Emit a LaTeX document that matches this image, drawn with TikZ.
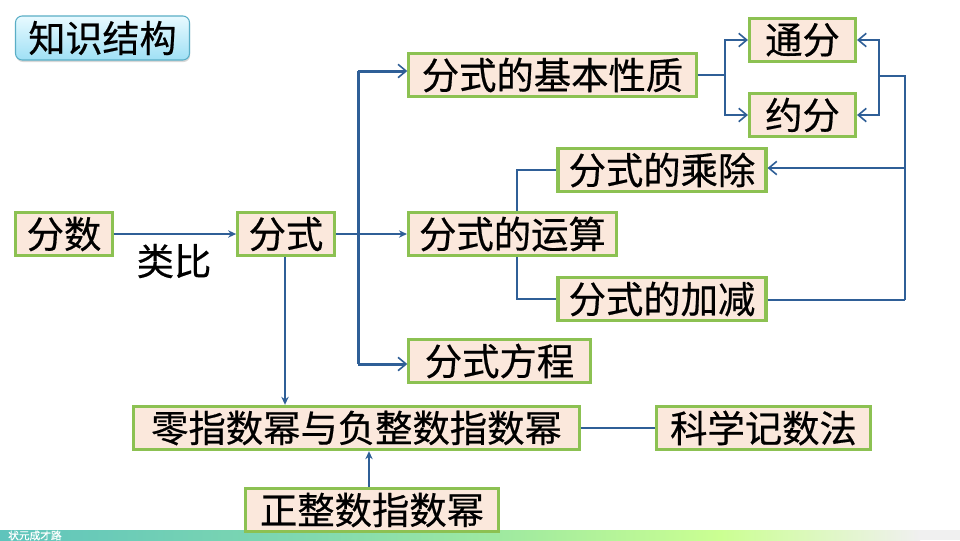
\documentclass[tikz,border=0pt]{standalone}
\usepackage{fontspec}
\setmainfont[RawFeature={embolden=0.5}]{Noto Sans CJK SC}
\usetikzlibrary{arrows.meta,shadows,calc}
\definecolor{boxfill}{HTML}{FBE8DC}
\definecolor{boxline}{HTML}{8CC152}
\definecolor{connc}{HTML}{2F5F97}
\definecolor{titleline}{HTML}{5AAEC6}
\definecolor{titletop}{HTML}{E8FAFF}
\definecolor{titlebot}{HTML}{9FE0F5}
\definecolor{barA}{HTML}{5FC4BC}
\definecolor{barB}{HTML}{7FD8B0}
\definecolor{barC}{HTML}{A4EC9E}
\definecolor{barD}{HTML}{CBFF92}
\definecolor{barE}{HTML}{F0F0F0}
\tikzset{
  px/.style={x=0.75pt,y=-0.75pt},
  kbox/.style={draw=boxline,fill=boxfill,line width=2.3pt,inner sep=0pt,font=\fontsize{28}{30}\selectfont,text=black,minimum height=32.5pt},
  thinlink/.style={draw=connc,line width=1pt},
  midlink/.style={draw=connc,line width=1.7pt},
  heavylink/.style={draw=connc,line width=2.25pt},
  barb/.style={-{Straight Barb[length=6pt,width=10pt,line width=1.2pt]}},
  solidtip/.style={-{Stealth[length=6pt,width=5.5pt]}},
}
\begin{document}
\begin{tikzpicture}[px]
\useasboundingbox (0,0) rectangle (960,540);
\fill[white] (0,0) rectangle (960,540);
\shade[left color=barA,right color=barB] (0,530) rectangle (300,540);
\shade[left color=barB,right color=barC] (300,530) rectangle (530,540);
\shade[left color=barC,right color=barD] (530,530) rectangle (720,540);
\shade[left color=barD,right color=barE] (720,530) rectangle (920,540);
\fill[barE] (920,530) rectangle (960,540);
\node (foot) [text=white,font=\fontsize{8}{8}\selectfont,anchor=west,inner sep=0pt] at (8,535.5) {状元成才路};
\node (title) [draw=titleline,line width=0.8pt,rounded corners=5pt,top color=titletop,bottom color=titlebot,
  minimum width=130.5pt,minimum height=33pt,inner sep=0pt,font=\fontsize{27.8}{30}\selectfont,
  drop shadow={shadow xshift=0.5pt,shadow yshift=-1.5pt,opacity=0.3}] at (102.5,38) {知识结构};
\node[kbox,minimum width=72.5pt] (fenshu) at (64,234) {分数};
\node[kbox,minimum width=72.5pt] (fenshi) at (286,234) {分式};
\node[kbox,minimum width=215.5pt] (jiben) at (552.5,75) {分式的基本性质};
\node[kbox,minimum width=79.5pt] (tong) at (802.5,40) {通分};
\node[kbox,minimum width=79.5pt] (yue) at (802.5,115) {约分};
\node[kbox,minimum width=156pt] (cheng) at (662,170) {分式的乘除};
\node[kbox,minimum width=156pt] (yun) at (512.5,234) {分式的运算};
\node[kbox,minimum width=156pt] (jia) at (662,299) {分式的加减};
\node[kbox,minimum width=136pt] (fang) at (499.5,361) {分式方程};
\node[kbox,minimum width=335pt] (ling) at (356.5,428) {零指数幂与负整数指数幂};
\node[kbox,minimum width=161pt] (ke) at (763.5,428) {科学记数法};
\node[kbox,minimum width=190pt] (zheng) at (372,510) {正整数指数幂};
\node (leibi) [font=\fontsize{28}{30}\selectfont,inner sep=0pt] at (174,261) {类比};
% junction coordinates
\coordinate (jtop) at (358,71);
\coordinate (jbot) at (358,364);
\coordinate (ja) at (725,75);
\coordinate (rb) at (879,76);
\coordinate (rv) at (905,76);
\coordinate (rc) at (905,168);
\coordinate (rd) at (905,300);
\coordinate (ls) at (517,234);
\coordinate (down) at (285,300);
\coordinate (up) at (369,470);
% connectors
\draw[thinlink,solidtip] (fenshu.east) -- (fenshi.west);
\draw[thinlink,solidtip] (fenshi.east) -- (yun.west);
\draw[heavylink,barb] (jtop) -- (jtop -| jiben.west);
\draw[heavylink] (jtop) -- (jbot);
\draw[heavylink,barb] (jbot) -- (jbot -| fang.west);
\draw[midlink] (jiben.east |- ja) -- (ja);
\draw[midlink,barb] (ja) |- (tong.west);
\draw[midlink,barb] (ja) |- (yue.west);
\draw[midlink,barb] (rb) |- (tong.east);
\draw[midlink,barb] (rb) |- (yue.east);
\draw[midlink] (rb) -- (rv) -- (rd);
\draw[midlink,barb] (rc) -- (rc -| cheng.east);
\draw[midlink] (jia.east |- rd) -- (rd);
\draw[midlink] (ls |- yun.north) |- (cheng.west);
\draw[midlink] (ls |- yun.south) |- (jia.west);
\draw[thinlink,solidtip] (down |- fenshi.south) -- (down |- ling.north);
\draw[midlink] (ling.east) -- (ke.west);
\draw[midlink,solidtip] (up |- zheng.north) -- (up |- ling.south);
\end{tikzpicture}
\end{document}
